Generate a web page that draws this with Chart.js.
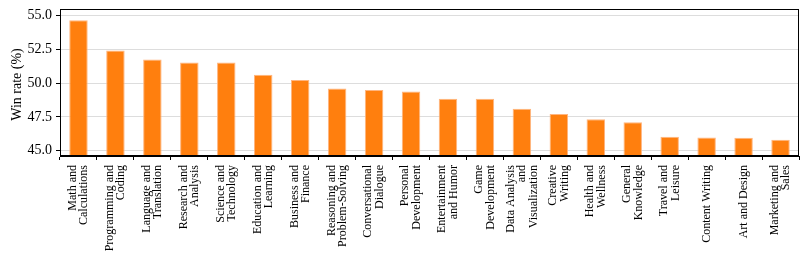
<!DOCTYPE html>
<html>
<head>
<meta charset="utf-8">
<script src="https://cdn.jsdelivr.net/npm/chart.js@4"></script>
<style>
  html, body { margin: 0; padding: 0; background: #fff; }
  #wrap { width: 806px; height: 263px; }
</style>
</head>
<body>
<div id="wrap"><canvas id="winChart" width="806" height="263"></canvas></div>
<script>
// categories (multi-line labels, as drawn under the axis)
const categories = [
  ['Math and', 'Calculations'],
  ['Programming and', 'Coding'],
  ['Language and', 'Translation'],
  ['Research and', 'Analysis'],
  ['Science and', 'Technology'],
  ['Education and', 'Learning'],
  ['Business and', 'Finance'],
  ['Reasoning and', 'Problem-Solving'],
  ['Conversational', 'Dialogue'],
  ['Personal', 'Development'],
  ['Entertainment', 'and Humor'],
  ['Game', 'Development'],
  ['Data Analysis', 'and', 'Visualization'],
  ['Creative', 'Writing'],
  ['Health and', 'Wellness'],
  ['General', 'Knowledge'],
  ['Travel and', 'Leisure'],
  ['Content Writing'],
  ['Art and Design'],
  ['Marketing and', 'Sales']
];

// win rate per category (%)
const winRates = [
  54.66, 52.43, 51.75, 51.53, 51.53, 50.63, 50.24, 49.61, 49.49, 49.39,
  48.84, 48.84, 48.10, 47.72, 47.33, 47.10, 46.03, 45.98, 45.96, 45.81
];

// y ticks
const yTicks = [45.0, 47.5, 50.0, 52.5, 55.0];
const yTitle = 'Win rate (%)';

const serif = '"Liberation Serif", "DejaVu Serif", serif';

// draws frame (all four spines), y title and the rotated, centred category labels
const framePlugin = {
  id: 'frame',
  afterDraw(chart) {
    const ctx = chart.ctx;
    const a = chart.chartArea;
    ctx.save();
    ctx.strokeStyle = '#000';
    ctx.lineWidth = 1;
    ctx.strokeRect(a.left + 0.5, a.top + 0.5, a.right - a.left - 1, a.bottom - a.top - 1);

    ctx.fillStyle = '#000';
    ctx.font = '14px ' + serif;
    ctx.textAlign = 'center';
    ctx.textBaseline = 'middle';
    ctx.save();
    ctx.translate(17, (a.top + a.bottom) / 2 + 2);
    ctx.rotate(-Math.PI / 2);
    ctx.fillText(yTitle, 0, 0);
    ctx.restore();

    const xs = chart.scales.x;
    const lh = 11.5;
    ctx.font = '12px ' + serif;
    ctx.textAlign = 'right';
    categories.forEach((lines, i) => {
      const x = xs.getPixelForTick(i);
      lines.forEach((line, j) => {
        const cx = x + (j - (lines.length - 1) / 2) * lh;
        ctx.save();
        ctx.translate(cx, a.bottom + 9);
        ctx.rotate(-Math.PI / 2);
        ctx.fillText(line, 0, 0);
        ctx.restore();
      });
    });
    ctx.restore();
  }
};

const ctx = document.getElementById('winChart').getContext('2d');
new Chart(ctx, {
  type: 'bar',
  data: {
    labels: categories,
    datasets: [{
      label: 'Win rate',
      data: winRates,
      backgroundColor: '#ff7f0e',
      borderColor: '#ffb57f',
      borderWidth: 1,
      barPercentage: 0.5,
      categoryPercentage: 1.0
    }]
  },
  options: {
    responsive: false,
    animation: false,
    layout: { padding: { top: 9, right: 7, left: 0, bottom: 0 } },
    plugins: {
      legend: { display: false },
      tooltip: { enabled: false }
    },
    scales: {
      x: {
        offset: true,
        afterFit(scale) {
          scale.height = 107;
          scale.paddingLeft = 0;
          scale.paddingRight = 0;
        },
        grid: {
          drawOnChartArea: false,
          drawTicks: true,
          tickLength: 4,
          tickColor: '#000'
        },
        border: { display: true, color: '#000', width: 1 },
        ticks: {
          color: 'rgba(0,0,0,0)',
          font: { family: serif, size: 11 },
          autoSkip: false,
          maxRotation: 90,
          minRotation: 90
        }
      },
      y: {
        min: 44.6,
        max: 55.5,
        afterFit(scale) {
          scale.width = 60;
          scale.paddingTop = 0;
          scale.paddingBottom = 0;
        },
        afterBuildTicks(scale) {
          scale.ticks = yTicks.map(v => ({ value: v }));
        },
        grid: {
          color: '#dddddd',
          lineWidth: 1,
          drawTicks: true,
          tickLength: 4,
          tickColor: '#000'
        },
        border: { display: true, color: '#000', width: 1 },
        ticks: {
          color: '#000',
          padding: 4,
          font: { family: serif, size: 14 },
          callback: v => Number(v).toFixed(1)
        }
      }
    }
  },
  plugins: [framePlugin]
});
</script>
</body>
</html>
